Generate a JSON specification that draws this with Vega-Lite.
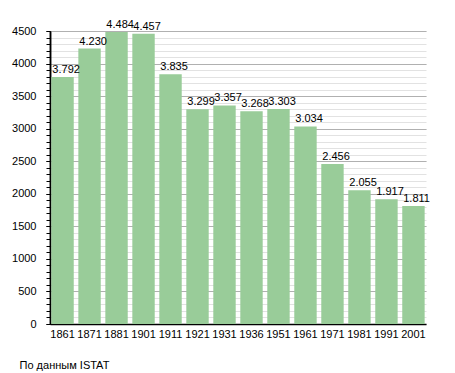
{
  "$schema": "https://vega.github.io/schema/vega-lite/v6.json",
  "autosize": "none",
  "width": 376,
  "height": 293,
  "padding": {"left": 50, "top": 31, "right": 29, "bottom": 49},
  "background": "white",
  "config": {
    "font": "Liberation Sans",
    "view": {"stroke": null},
    "locale": {"number": {"decimal": ",", "thousands": ".", "grouping": [3], "currency": ["", ""]}}
  },
  "title": {
    "text": "По данным ISTAT",
    "orient": "bottom",
    "anchor": "start",
    "dx": 8,
    "offset": 21,
    "fontSize": 11,
    "fontWeight": "normal",
    "color": "#000"
  },
  "data": {
    "values": [
      {"year": "1861", "pop": 3792},
      {"year": "1871", "pop": 4230},
      {"year": "1881", "pop": 4484},
      {"year": "1901", "pop": 4457},
      {"year": "1911", "pop": 3835},
      {"year": "1921", "pop": 3299},
      {"year": "1931", "pop": 3357},
      {"year": "1936", "pop": 3268},
      {"year": "1951", "pop": 3303},
      {"year": "1961", "pop": 3034},
      {"year": "1971", "pop": 2456},
      {"year": "1981", "pop": 2055},
      {"year": "1991", "pop": 1917},
      {"year": "2001", "pop": 1811}
    ]
  },
  "encoding": {
    "x": {
      "field": "year",
      "type": "ordinal",
      "sort": null,
      "scale": {"paddingInner": 0.17, "paddingOuter": 0.05},
      "axis": {
        "title": null,
        "labelAngle": 0,
        "ticks": false,
        "labelPadding": 4,
        "labelFontSize": 11,
        "labelColor": "#000",
        "domainColor": "#000",
        "domainWidth": 1.5,
        "grid": false,
        "labelOverlap": false
      }
    }
  },
  "resolve": {"axis": {"y": "independent"}},
  "layer": [
    {
      "mark": {"type": "bar", "color": "#99cc99"},
      "encoding": {
        "y": {
          "field": "pop",
          "type": "quantitative",
          "scale": {"domain": [0, 4500], "nice": false},
          "axis": {
            "orient": "left",
            "title": null,
            "values": [0,100,200,300,400,500,600,700,800,900,1000,1100,1200,1300,1400,1500,1600,1700,1800,1900,2000,2100,2200,2300,2400,2500,2600,2700,2800,2900,3000,3100,3200,3300,3400,3500,3600,3700,3800,3900,4000,4100,4200,4300,4400,4500],
            "labels": false,
            "tickSize": 4,
            "tickColor": "#000",
            "domainColor": "#000",
            "domainWidth": 1.5,
            "grid": true,
            "gridColor": "#e2e2e2",
            "gridWidth": 1,
            "zindex": 0
          }
        }
      }
    },
    {
      "mark": {"type": "text", "align": "left", "baseline": "bottom", "dx": 1, "dy": -2, "fontSize": 11, "color": "#000"},
      "encoding": {
        "x": {"field": "year", "type": "ordinal", "sort": null, "bandPosition": 0},
        "y": {
          "field": "pop",
          "type": "quantitative",
          "axis": {
            "orient": "left",
            "title": null,
            "values": [0,500,1000,1500,2000,2500,3000,3500,4000,4500],
            "format": "d",
            "labelFontSize": 11,
            "labelColor": "#000",
            "labelPadding": 10,
            "labelOverlap": false,
            "tickSize": 4,
            "tickColor": "#000",
            "domainColor": "#000",
            "domainWidth": 1.5,
            "grid": true,
            "gridColor": "#b0b0b0",
            "gridWidth": 1,
            "zindex": 0
          }
        },
        "text": {"field": "pop", "type": "quantitative", "format": ",d"}
      }
    }
  ]
}
